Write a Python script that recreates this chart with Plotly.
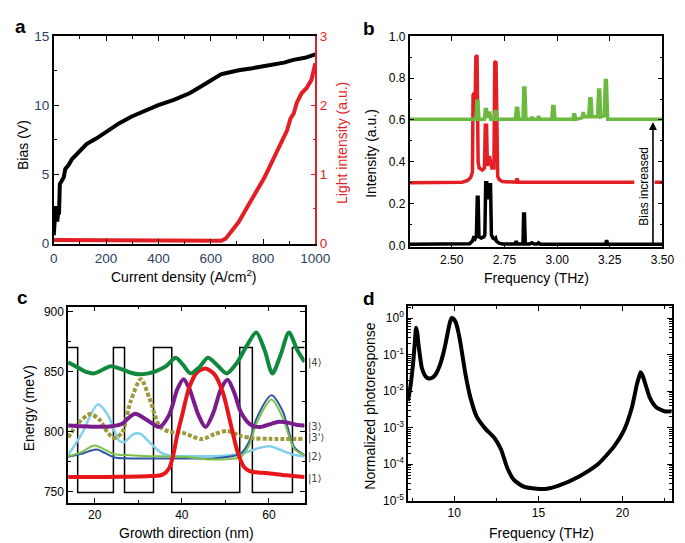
import plotly.graph_objects as go

W, H = 685, 543
def px(x): return x / W
def py(y): return 1 - y / H

FONT = "Liberation Sans, Arial, sans-serif"
RED = "#e31e24"

# ---------------- panel a data ----------------
bias_j = [0, 3, 5, 7, 10, 13, 16, 20, 23, 30, 38, 44, 57, 69, 85, 100, 125, 162, 200, 249, 298, 347, 397, 459, 521, 583, 620, 639, 660, 707, 760, 830, 880, 916, 960, 1000]
bias_v = [0.6, 1.2, 2.0, 2.7, 2.4, 1.6, 2.1, 2.2, 4.3, 4.5, 4.8, 5.4, 5.7, 6.1, 6.4, 6.7, 7.2, 7.6, 8.1, 8.7, 9.2, 9.6, 10.0, 10.4, 10.9, 11.6, 12.0, 12.25, 12.35, 12.55, 12.7, 12.9, 13.1, 13.3, 13.45, 13.7]
light_j = [0, 50, 100, 150, 200, 250, 300, 350, 400, 450, 500, 550, 600, 640, 657, 682, 707, 731, 756, 781, 806, 830, 855, 880, 892, 905, 917, 929, 948, 966, 985, 1000]
light_l = [0.05, 0.05, 0.04, 0.05, 0.04, 0.05, 0.04, 0.04, 0.04, 0.04, 0.05, 0.04, 0.04, 0.04, 0.07, 0.19, 0.31, 0.47, 0.63, 0.80, 0.96, 1.15, 1.34, 1.53, 1.64, 1.81, 1.88, 2.04, 2.18, 2.25, 2.37, 2.61]
a_xticks = [0, 200, 400, 600, 800, 1000]
a_yticks = [0, 5, 10, 15]
a_y2ticks = [0, 1, 2, 3]

# ---------------- panel b data ----------------
blk_f = [2.30, 2.585, 2.598, 2.603, 2.610, 2.617, 2.621, 2.625, 2.629, 2.640, 2.652, 2.657, 2.661, 2.666, 2.671, 2.677, 2.684, 2.688, 2.695, 2.703, 2.708, 2.712, 2.725, 2.740, 2.800, 2.806, 2.812, 2.838, 2.841, 2.845, 2.849, 2.870, 2.880, 2.890, 2.905, 2.912, 2.920, 3.000, 3.230, 3.235, 3.240, 3.50]
blk_i = [0.005, 0.008, 0.02, 0.035, 0.03, 0.05, 0.23, 0.23, 0.04, 0.035, 0.04, 0.05, 0.30, 0.30, 0.22, 0.29, 0.29, 0.05, 0.035, 0.03, 0.035, 0.02, 0.01, 0.006, 0.006, 0.02, 0.006, 0.006, 0.15, 0.15, 0.006, 0.006, 0.012, 0.006, 0.006, 0.012, 0.005, 0.005, 0.005, 0.025, 0.005, 0.005]
red_f = [2.30, 2.55, 2.575, 2.59, 2.598, 2.601, 2.607, 2.610, 2.614, 2.620, 2.625, 2.630, 2.645, 2.655, 2.659, 2.665, 2.669, 2.674, 2.680, 2.686, 2.690, 2.700, 2.704, 2.710, 2.714, 2.718, 2.725, 2.740, 2.805, 2.810, 2.815, 3.366, None, 3.463, 3.50]
red_i = [0.30, 0.302, 0.31, 0.325, 0.35, 0.72, 0.73, 0.62, 0.90, 0.91, 0.40, 0.37, 0.36, 0.37, 0.575, 0.575, 0.38, 0.42, 0.42, 0.39, 0.37, 0.37, 0.875, 0.88, 0.36, 0.33, 0.315, 0.305, 0.302, 0.32, 0.302, 0.302, None, 0.302, 0.302]
grn_f = [2.30, 2.615, 2.619, 2.624, 2.629, 2.655, 2.659, 2.665, 2.670, 2.676, 2.680, 2.685, 2.690, 2.702, 2.706, 2.711, 2.716, 2.802, 2.807, 2.813, 2.818, 2.838, 2.842, 2.847, 2.852, 2.876, 2.880, 2.884, 2.908, 2.912, 2.916, 2.975, 2.979, 2.985, 2.990, 3.075, 3.079, 3.084, 3.088, 3.118, 3.124, 3.130, 3.150, 3.155, 3.161, 3.166, 3.192, 3.197, 3.202, 3.207, 3.224, 3.229, 3.234, 3.240, 3.50]
grn_i = [0.603, 0.603, 0.69, 0.69, 0.603, 0.603, 0.65, 0.65, 0.61, 0.64, 0.64, 0.603, 0.603, 0.603, 0.64, 0.64, 0.603, 0.603, 0.656, 0.656, 0.603, 0.603, 0.753, 0.753, 0.603, 0.603, 0.615, 0.603, 0.603, 0.62, 0.603, 0.603, 0.664, 0.664, 0.603, 0.603, 0.625, 0.625, 0.603, 0.61, 0.637, 0.615, 0.615, 0.702, 0.702, 0.615, 0.615, 0.743, 0.743, 0.615, 0.62, 0.789, 0.789, 0.603, 0.603]
b_xticks = [2.50, 2.75, 3.00, 3.25, 3.50]
b_yticks = [0.0, 0.2, 0.4, 0.6, 0.8, 1.0]

# ---------------- panel c data ----------------
pot_x = [13.9, 16.1, 16.1, 24.3, 24.3, 26.85, 26.85, 33.5, 33.5, 37.7, 37.7, 53.3, 53.3, 56.2, 56.2, 65.4, 65.4, 68.2]
pot_e = [870, 870, 749.4, 749.4, 870, 870, 749.4, 749.4, 870, 870, 749.4, 749.4, 870, 870, 749.4, 749.4, 870, 870]
psi4_x = [13.9, 16.3, 18.2, 19.9, 21.8, 23.7, 26.3, 28.3, 30.2, 32.3, 34.1, 36.4, 38.6, 40.3, 42.0, 44.0, 46.0, 48.2, 50.3, 52.5, 55.0, 57.1, 59.0, 60.8, 62.6, 64.6, 66.5, 68.2]
psi4_e = [857.7, 853.1, 849.5, 848.5, 851.5, 854.5, 851.8, 849.0, 847.7, 848.5, 850.4, 854.5, 861.5, 855.5, 848.5, 853.5, 861.5, 855.0, 848.5, 856.5, 872.0, 882.5, 868.0, 848.5, 863.0, 882.5, 868.0, 858.0]
psi1_x = [13.9, 20, 26, 30, 33, 35.6, 37.1, 38.0, 39.0, 40.1, 41.6, 43.4, 45.45, 47.5, 49.4, 51.25, 52.7, 54.2, 55.7, 57.5, 59.4, 63.9, 68.2]
psi1_e = [762.3, 762.3, 762.4, 762.6, 763.0, 764.2, 769.6, 780.0, 797.9, 814.0, 835.6, 849.0, 852.6, 847.7, 832.9, 806.0, 784.4, 771.0, 766.9, 766.0, 765.5, 763.7, 762.3]
psi3_x = [13.9, 17, 20.7, 24, 26.3, 27.8, 29.3, 31.9, 34.9, 37.1, 39.0, 40.4, 41.7, 43.8, 45.45, 47.2, 49.0, 50.5, 52.0, 53.5, 55.7, 57.95, 60.5, 62.3, 64.6, 66.5, 68.2]
psi3_e = [805.2, 804.5, 804.0, 804.5, 806.5, 811.5, 814.8, 810.0, 804.0, 814.0, 835.6, 843.7, 836.0, 814.0, 803.8, 815.4, 835.6, 843.2, 832.9, 816.7, 806.0, 803.8, 806.5, 808.2, 807.3, 805.5, 805.2]
psi3p_x = [13.9, 16.3, 18.9, 21.1, 23.0, 24.5, 26.3, 28.2, 30.6, 32.6, 34.9, 37.1, 40.1, 44.55, 47.5, 50.5, 53.5, 56.5, 60.0, 68.2]
psi3p_e = [795.2, 807.3, 814.6, 810.0, 799.2, 794.6, 799.2, 824.8, 843.7, 827.5, 804.6, 800.0, 799.2, 793.8, 797.9, 800.6, 796.5, 794.5, 794.0, 794.0]
psi2_x = [13.9, 17.0, 20.7, 23.0, 25.6, 26.7, 28.9, 30.4, 32.6, 35.6, 38.6, 45.0, 51.25, 55.0, 57.8, 60.2, 63.9, 66.0, 68.2]
psi2_e = [780.4, 797.9, 822.7, 814.0, 792.5, 791.1, 797.9, 798.4, 791.1, 781.7, 779.8, 779.5, 780.4, 783.0, 786.5, 787.9, 783.0, 780.5, 779.5]
psib_x = [13.9, 17, 20.4, 24.5, 28.2, 40.8, 47.5, 53.5, 55.5, 57.2, 60.6, 63.2, 65.8, 68.2]
psib_e = [779.0, 781.5, 785.2, 778.5, 777.7, 777.7, 777.7, 781.7, 792.0, 811.3, 830.2, 816.7, 787.1, 780.4]
psig_x = [13.9, 17, 20.0, 24.5, 28.2, 31.2, 41.2, 46.0, 53.5, 55.5, 57.2, 60.6, 63.2, 65.8, 68.2]
psig_e = [779.5, 783.0, 788.4, 781.2, 780.4, 779.8, 779.0, 776.9, 779.0, 789.0, 807.3, 826.7, 811.3, 785.7, 780.4]
state_labels = ["|4\u27e9", "|3\u27e9", "|3'\u27e9", "|2\u27e9", "|1\u27e9"]
state_levels = [857, 804, 795, 779, 761]
c_xticks = [20, 40, 60]
c_yticks = [750, 800, 850, 900]

# ---------------- panel d data ----------------
d_f = [7.25, 7.41, 7.56, 7.65, 7.73, 7.80, 7.88, 8.08, 8.30, 8.52, 8.75, 8.94, 9.15, 9.32, 9.50, 9.61, 9.75, 9.84, 9.95, 10.1, 10.25, 10.39, 10.67, 10.96, 11.34, 11.83, 12.4, 12.78, 13.17, 13.56, 14.13, 14.9, 15.5, 16.24, 17.39, 18.55, 19.51, 20.09, 20.56, 20.85, 21.0, 21.08, 21.2, 21.34, 21.62, 22.0, 22.49, 22.91]
d_r = [5.4e-3, 1.5e-2, 6.3e-2, 0.2, 0.54, 0.4, 0.18, 0.042, 0.025, 0.022, 0.024, 0.031, 0.052, 0.095, 0.22, 0.40, 0.79, 1.0, 0.95, 0.74, 0.40, 0.18, 0.028, 6.6e-3, 1.95e-3, 9.5e-4, 5.1e-4, 2.5e-4, 7.4e-5, 3.6e-5, 2.4e-5, 2.1e-5, 2.1e-5, 2.6e-5, 4.5e-5, 1.0e-4, 3.1e-4, 8.5e-4, 3.6e-3, 1.5e-2, 2.6e-2, 3.3e-2, 2.6e-2, 1.66e-2, 6.6e-3, 3.6e-3, 2.8e-3, 2.8e-3]
d_xticks = [10, 15, 20]
d_yticks = [1e-5, 1e-4, 1e-3, 1e-2, 1e-1, 1]
d_ytext = ["10<sup>-5</sup>", "10<sup>-4</sup>", "10<sup>-3</sup>", "10<sup>-2</sup>", "10<sup>-1</sup>", "10<sup>0</sup>"]

fig = go.Figure()
# panel a
fig.add_trace(go.Scatter(x=bias_j, y=bias_v, mode="lines", line=dict(color="black", width=4), xaxis="x", yaxis="y"))
fig.add_trace(go.Scatter(x=light_j, y=light_l, mode="lines", line=dict(color=RED, width=4), xaxis="x", yaxis="y2"))
# panel b
fig.add_trace(go.Scatter(x=blk_f, y=blk_i, mode="lines", line=dict(color="black", width=3.5), xaxis="x2", yaxis="y3"))
fig.add_trace(go.Scatter(x=red_f, y=red_i, mode="lines", line=dict(color=RED, width=3.5), xaxis="x2", yaxis="y3", connectgaps=False))
fig.add_trace(go.Scatter(x=grn_f, y=grn_i, mode="lines", line=dict(color="#6cb93f", width=3.5), xaxis="x2", yaxis="y3"))
# panel c
fig.add_trace(go.Scatter(x=pot_x, y=pot_e, mode="lines", line=dict(color="black", width=1.5), xaxis="x3", yaxis="y4"))
sp = dict(shape="spline", smoothing=0.8)
fig.add_trace(go.Scatter(x=psi2_x, y=psi2_e, mode="lines", line=dict(color="#7fd0ea", width=2.5, **sp), xaxis="x3", yaxis="y4"))
fig.add_trace(go.Scatter(x=psib_x, y=psib_e, mode="lines", line=dict(color="#2f56a6", width=2, **sp), xaxis="x3", yaxis="y4"))
fig.add_trace(go.Scatter(x=psig_x, y=psig_e, mode="lines", line=dict(color="#7dc04a", width=2, **sp), xaxis="x3", yaxis="y4"))
fig.add_trace(go.Scatter(x=psi3p_x, y=psi3p_e, mode="lines", line=dict(color="#9c9a3a", width=4, dash="4px,2px", **sp), xaxis="x3", yaxis="y4"))
fig.add_trace(go.Scatter(x=psi3_x, y=psi3_e, mode="lines", line=dict(color="#7a1c8c", width=4, **sp), xaxis="x3", yaxis="y4"))
fig.add_trace(go.Scatter(x=psi1_x, y=psi1_e, mode="lines", line=dict(color="#e8161b", width=4, **sp), xaxis="x3", yaxis="y4"))
fig.add_trace(go.Scatter(x=psi4_x, y=psi4_e, mode="lines", line=dict(color="#10893e", width=4, **sp), xaxis="x3", yaxis="y4"))
# panel d
fig.add_trace(go.Scatter(x=d_f, y=d_r, mode="lines", line=dict(color="black", width=4, shape="spline", smoothing=0.6), xaxis="x4", yaxis="y5"))

def ax(**kw):
    base = dict(showline=True, linecolor="black", linewidth=1.5, ticks="inside", ticklen=5, tickwidth=1.2,
                tickcolor="black", showgrid=False, zeroline=False, mirror="ticks",
                tickfont=dict(family=FONT, size=12, color="black"))
    base.update(kw)
    return base

def minor(d, color="black"):
    return dict(ticks="inside", ticklen=3, tickwidth=1, tickcolor=color, dtick=d, showgrid=False)

layout = dict(
    width=W, height=H, margin=dict(l=0, r=0, t=0, b=0), showlegend=False,
    paper_bgcolor="white", plot_bgcolor="white", font=dict(family=FONT),
    xaxis=ax(domain=[px(43), px(312)], anchor="y", range=[0, 1000], tickvals=a_xticks,
             minor=minor(100), tickfont=dict(family=FONT, size=13.5), ticklabelstandoff=2),
    yaxis=ax(domain=[py(235), py(22)], anchor="x", range=[0, 15], tickvals=a_yticks, mirror=False,
             minor=minor(2.5), tickfont=dict(family=FONT, size=13.5)),
    yaxis2=ax(overlaying="y", side="right", anchor="x", range=[0, 3], tickvals=a_y2ticks, mirror=False,
              linecolor=RED, tickcolor=RED, minor=minor(0.5, RED), tickfont=dict(family=FONT, size=13.5, color=RED)),
    xaxis2=ax(domain=[px(409), px(669)], anchor="y3", range=[2.3, 3.5], tickvals=b_xticks, tickformat=".2f"),
    yaxis3=ax(domain=[py(239), py(22)], anchor="x2", range=[-0.01, 1.0], tickvals=b_yticks, tickformat=".1f",
              minor=minor(0.1)),
    xaxis3=ax(domain=[px(57.7), px(301)], anchor="y4", range=[13.9, 68.2], tickvals=c_xticks, minor=minor(10)),
    yaxis4=ax(domain=[py(502), py(300)], anchor="x3", range=[740.5, 904], tickvals=c_yticks, minor=minor(25)),
    xaxis4=ax(domain=[px(407.3), px(679)], anchor="y5", range=[7.25, 22.95], tickvals=d_xticks, minor=minor(2.5)),
    yaxis5=ax(domain=[py(499.3), py(299.3)], anchor="x4", type="log", range=[-5, 0.33], tickvals=d_yticks,
              ticktext=d_ytext, minor=minor("D1")),
)

ann = []
def text(x, y, t, size=14, angle=0, color="black", bold=False, xanchor="center"):
    ann.append(dict(x=px(x), y=py(y), xref="paper", yref="paper", text=("<b>%s</b>" % t if bold else t),
                    showarrow=False, textangle=angle, xanchor=xanchor, yanchor="middle",
                    font=dict(family=FONT, size=size, color=color)))

text(8.5, 11.4, "a", size=19, bold=True)
text(367.5, 13.5, "b", size=19, bold=True)
text(11, 291, "c", size=19, bold=True)
text(367.5, 292, "d", size=19, bold=True)
text(177, 268, "Current density (A/cm<sup>2</sup>)")
text(12, 134, "Bias (V)", angle=-90)
text(340, 132, "Light intensity (a.u.)", angle=-90, color=RED)
text(369, 142, "Intensity (a.u.)", angle=-90)
text(539, 270, "Frequency (THz)")
text(17, 405, "Energy (meV)", angle=-90)
text(179, 533, "Growth direction (nm)")
text(368, 402, "Normalized photoresponse", angle=-90)
text(545, 533, "Frequency (THz)")

# arrow and label in panel b
ann.append(dict(x=3.455, y=0.59, xref="x2", yref="y3", ax=3.455, ay=0.0, axref="x2", ayref="y3",
                showarrow=True, arrowhead=2, arrowsize=1, arrowwidth=1.6, arrowcolor="black", text=""))
ann.append(dict(x=3.412, y=0.285, xref="x2", yref="y3", text="Bias increased", textangle=-90, showarrow=False,
                font=dict(family=FONT, size=12, color="black")))

# state labels in panel c
for lab, lev in zip(state_labels, state_levels):
    ann.append(dict(x=px(302), y=lev, xref="paper", yref="y4", text=lab, showarrow=False, xanchor="left",
                    yanchor="middle", font=dict(family="DejaVu Sans", size=10, color="#444")))

layout["annotations"] = ann
fig.update_layout(**layout)
fig.write_html("out.html")
